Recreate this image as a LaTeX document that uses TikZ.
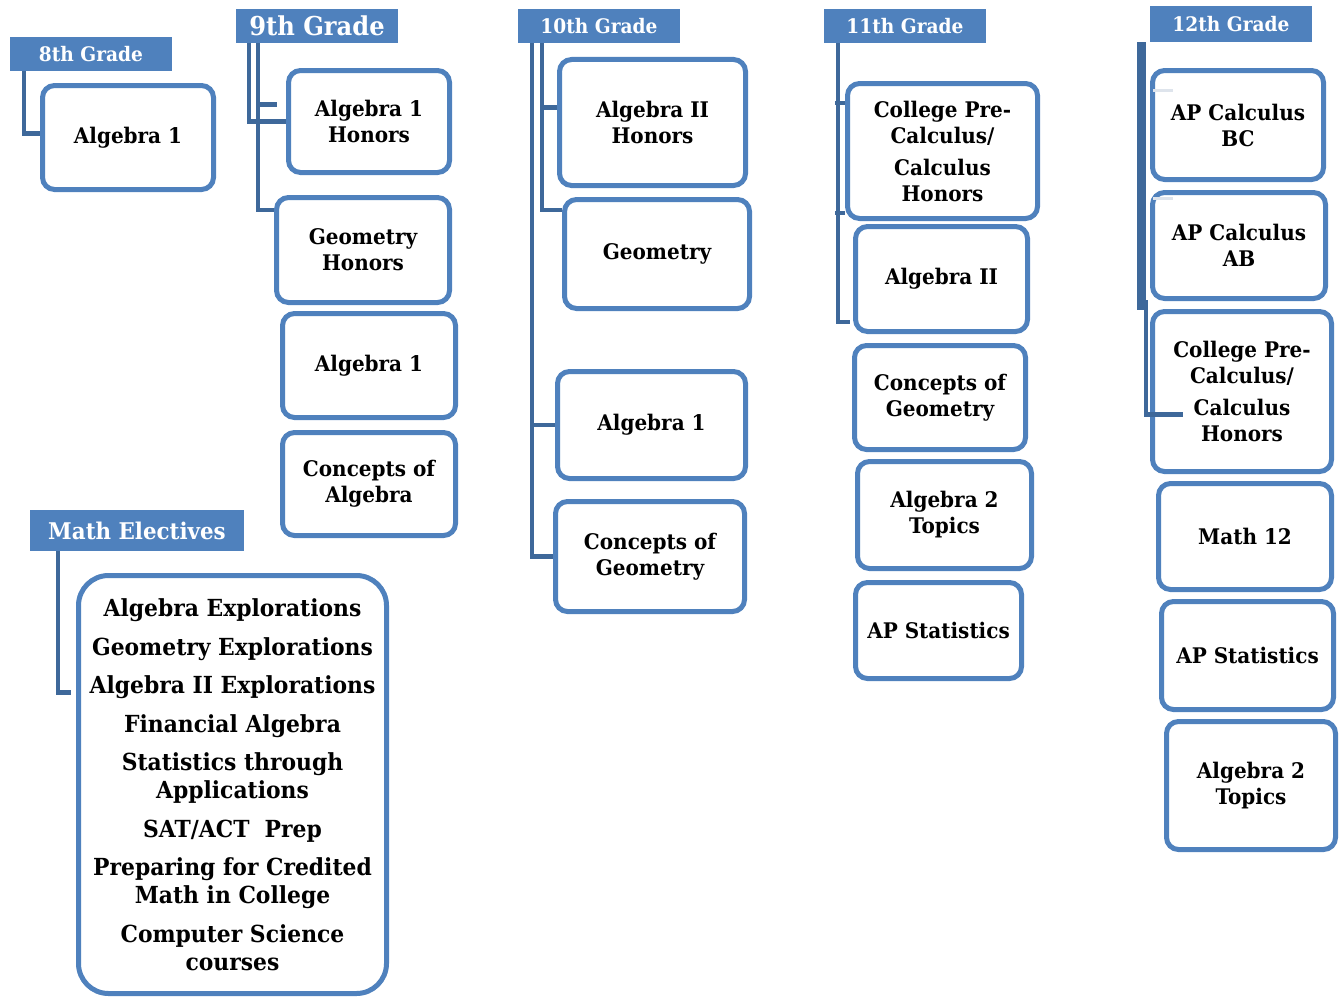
\documentclass[tikz,border=0pt]{standalone}
\usepackage{fontspec}
\setmainfont{DejaVu Serif}[FakeStretch=0.93]
\usetikzlibrary{calc}
\definecolor{boxblue}{RGB}{79,129,189}
\definecolor{linkblue}{RGB}{62,104,154}
\definecolor{stubgray}{RGB}{222,228,236}

\begin{document}
\begin{tikzpicture}[x=1pt,y=-1pt,
  grade/.style={fill=boxblue, text=white, inner sep=0pt, anchor=center,
    font=\bfseries\fontsize{20}{24}\selectfont},
  sz/.style 2 args={minimum width=#1pt, minimum height=#2pt},
  course/.style={draw=boxblue, line width=5pt, rounded corners=12pt, fill=white,
    align=center, inner sep=0pt, text=black,
    font=\bfseries\fontsize{21.5}{26}\selectfont},
  link/.style={draw=linkblue, line width=4.5pt},
]
\useasboundingbox (0,0) rectangle (1340,998);

% grade headers
\node[grade, sz={162}{34}] (h8) at (91,54) {8th Grade};
\node[grade, sz={162}{34}, font=\bfseries\fontsize{26}{30}\selectfont] (h9) at (317,26) {9th Grade};
\node[grade, sz={162}{34}] (h10) at (599,26) {10th Grade};
\node[grade, sz={162}{34}] (h11) at (905,26) {11th Grade};
\node[grade, sz={162}{36}] (h12) at (1231,24) {12th Grade};
\node[grade, sz={214}{41}, font=\bfseries\fontsize{23}{27}\selectfont] (he) at (137,530.5) {Math Electives};

% 8th grade
\node[course, sz={171}{104}] (c8) at (128,137.5) {Algebra 1};

% 9th grade
\node[course, sz={161}{102}] (a1h9) at (369,121.5) {Algebra 1\\Honors};
\node[course, sz={173}{105}] (geoh9) at (363,250) {Geometry\\Honors};
\node[course, sz={173}{104}] (a19) at (369,365.5) {Algebra 1};
\node[course, sz={173}{103}] (coa9) at (369,484) {Concepts of\\Algebra};

% 10th grade
\node[course, sz={186}{126}] (a2h10) at (652.5,122.5) {Algebra II\\Honors};
\node[course, sz={185}{109}] (geo10) at (657,254) {Geometry};
\node[course, sz={188}{107}] (a110) at (651.5,425) {Algebra 1};
\node[course, sz={189}{110}] (cog10) at (650,556.5) {Concepts of\\Geometry};

% 11th grade
\node[course, sz={190}{135}] (cpc11) at (942.5,151) {College Pre-\\Calculus/\\[6pt]Calculus\\Honors};
\node[course, sz={172}{105}] (a211) at (941.5,279) {Algebra II};
\node[course, sz={171}{104}] (cog11) at (940,397.5) {Concepts of\\Geometry};
\node[course, sz={174}{107}] (a2t11) at (944.5,515) {Algebra 2\\Topics};
\node[course, sz={166}{96}] (aps11) at (938.5,630.5) {AP Statistics};

% 12th grade
\node[course, sz={171}{109}] (bc12) at (1238,125) {AP Calculus\\BC};
\node[course, sz={173}{106}] (ab12) at (1239,245.5) {AP Calculus\\AB};
\node[course, sz={179}{160}] (cpc12) at (1242,391.5) {College Pre-\\Calculus/\\[6pt]Calculus\\Honors};
\node[course, sz={173}{106}] (m12) at (1245,536.5) {Math 12};
\node[course, sz={172}{108}] (aps12) at (1247.5,655.5) {AP Statistics};
\node[course, sz={169}{128}] (a2t12) at (1251,785.5) {Algebra 2\\Topics};

% electives
\node[course, sz={308}{418}, rounded corners=30pt, font=\bfseries\fontsize{23.5}{28}\selectfont] (elect) at (232.5,784.5)
  {Algebra Explorations\\[11pt]
   Geometry Explorations\\[10pt]
   Algebra II Explorations\\[11pt]
   Financial Algebra\\[10pt]
   Statistics through\\Applications\\[11pt]
   SAT/ACT\ \ Prep\\[10pt]
   Preparing for Credited\\Math in College\\[11pt]
   Computer Science\\courses};

% connectors: 8th grade
\draw[link] ($(h8.south west)+(14,0)$) |- ($(c8.west)+(0,-4)$);

% connectors: 9th grade
\draw[link] ($(h9.south west)+(13,0)$) |- (a1h9.west);
\draw[link] ($(h9.south west)+(22,0)$) |- ($(geoh9.north west)+(0,15)$);
\draw[link] ($(a1h9.west)+(-28,-17)$) -- ($(a1h9.west)+(-9,-17)$);

% connectors: 10th grade
\draw[link] ($(h10.south west)+(14,0)$) |- (cog10.west);
\draw[link] ($(h10.south west)+(14,0)$) |- (a110.west);
\draw[link] ($(h10.south west)+(24,0)$) |- ($(geo10.north west)+(0,13)$);
\draw[link] ($(h10.south west)+(24,0)$) |- ($(a2h10.west)+(0,-15)$);

% connectors: 11th grade
\draw[link] ($(h11.south west)+(14,0)$) |- ($(a211.south west)+(-3,-12)$);
\draw[link] ($(cpc11.north west)+(-10,22)$) -- ($(cpc11.north west)+(0,22)$);
\draw[link] ($(cpc11.south west)+(-10,-8)$) -- ($(cpc11.south west)+(0,-8)$);

% connectors: 12th grade
\draw[link, line width=9pt] ($(h12.south west)+(-8,0)$) -- ($(h12.south west)+(-8,268)$);
\draw[link] ($(cpc12.north west)+(-4,-9)$) |- ($(cpc12.west)+(33,23)$);
\draw[draw=stubgray, line width=3pt] ($(bc12.north west)+(3,22)$) -- ($(bc12.north west)+(23,22)$);
\draw[draw=stubgray, line width=3pt] ($(ab12.north west)+(3,8)$) -- ($(ab12.north west)+(23,8)$);

% connector: electives
\draw[link] ($(he.south west)+(28,0)$) |- ($(elect.west)+(-5,-92)$);
\end{tikzpicture}
\end{document}
